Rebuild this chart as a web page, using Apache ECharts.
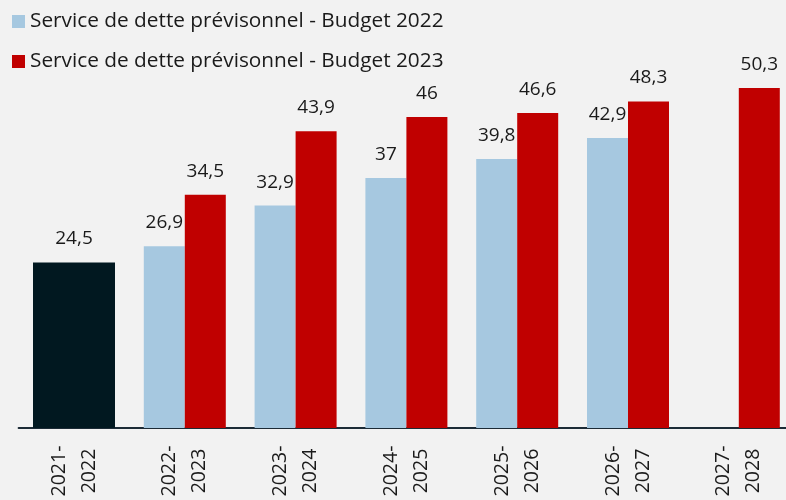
<!DOCTYPE html>
<html>
<head>
<meta charset="utf-8">
<script src="https://cdn.jsdelivr.net/npm/echarts@6/dist/echarts.min.js"></script>
<style>
  html, body { margin: 0; padding: 0; background: #f2f2f2; overflow: hidden; }
  #chart { width: 800px; height: 500px; }
</style>
</head>
<body>
<div id="chart"></div>
<script>
const periods = ["2021-\n2022", "2022-\n2023", "2023-\n2024", "2024-\n2025", "2025-\n2026", "2026-\n2027", "2027-\n2028"];
const realise = [24.5, null, null, null, null, null, null];
const budget2022 = [null, 26.9, 32.9, 37, 39.8, 42.9, null];
const budget2023 = [null, 34.5, 43.9, 46, 46.6, 48.3, 50.3];

const FONT = "Open Sans";
const fmt = (p) => String(p.value).replace(".", ",");
const barLabel = {
  show: true,
  position: "top",
  distance: 14,
  color: "#1a1a1a",
  fontSize: 19,
  fontFamily: FONT,
  formatter: fmt,
};

const chart = echarts.init(document.getElementById("chart"));
chart.setOption({
  backgroundColor: "#f2f2f2",
  animation: false,
  legend: {
    orient: "vertical",
    left: 12,
    top: 11,
    padding: 0,
    itemWidth: 13,
    itemHeight: 13,
    itemGap: 19,
    icon: "rect",
    data: ["Service de dette prévisonnel - Budget 2022", "Service de dette prévisonnel - Budget 2023"],
    textStyle: { fontFamily: FONT, fontSize: 20.8, color: "#1a1a1a" },
  },
  grid: { left: 18.6, width: 775.6, top: 88, bottom: 72, containLabel: false },
  xAxis: [
    {
      type: "category",
      data: periods,
      axisLine: { lineStyle: { color: "#1c2b36", width: 2 } },
      axisTick: { show: false },
      axisLabel: {
        interval: 0,
        rotate: 90,
        align: "center",
        verticalAlign: "middle",
        margin: 43,
        lineHeight: 30,
        fontFamily: FONT,
        fontSize: 19.5,
        color: "#1a1a1a",
      },
    },
    { type: "category", data: periods, show: false },
  ],
  yAxis: { type: "value", min: 0, max: 50.3, show: false },
  series: [
    {
      name: "Réalisé",
      type: "bar",
      xAxisIndex: 1,
      data: realise,
      barWidth: 82,
      itemStyle: { color: "#011820" },
      label: barLabel,
    },
    {
      name: "Service de dette prévisonnel - Budget 2022",
      type: "bar",
      data: budget2022,
      barWidth: 41,
      barGap: 0,
      itemStyle: { color: "#a6c8e0" },
      label: barLabel,
    },
    {
      name: "Service de dette prévisonnel - Budget 2023",
      type: "bar",
      data: budget2023,
      barWidth: 41,
      barGap: 0,
      itemStyle: { color: "#c00000" },
      label: barLabel,
    },
  ],
});
</script>
</body>
</html>
